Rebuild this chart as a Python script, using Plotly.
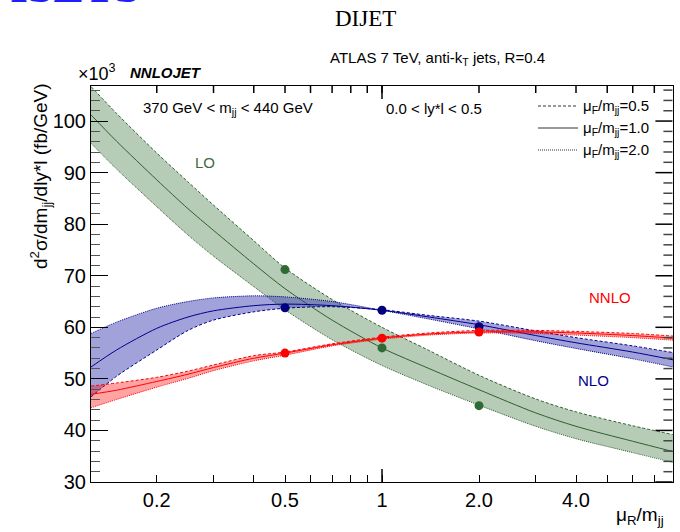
import plotly.graph_objects as go

# ---------------- data ----------------
mu_r = [0.125, 0.15, 0.2, 0.25, 0.3, 0.4, 0.5, 0.7, 1.0, 1.4, 2.0, 3.0, 4.0, 6.0, 8.0]

lo_central = [101.2, 96.1, 88.6, 83.0, 78.8, 72.3, 67.5, 61.4, 56.0, 52.0, 47.9, 43.4, 40.8, 37.9, 35.9]
lo_muf05 = [106.7, 101.5, 93.8, 88.2, 83.7, 76.8, 71.5, 65.4, 60.0, 55.5, 50.7, 46.1, 43.6, 40.9, 39.2]
lo_muf20 = [95.7, 90.7, 83.4, 77.9, 73.8, 67.9, 63.4, 57.6, 52.6, 48.7, 44.9, 40.8, 38.4, 35.7, 33.8]

nlo_central = [52.3, 55.6, 59.8, 62.0, 63.2, 64.2, 64.5, 64.2, 63.3, 62.0, 60.5, 58.4, 57.0, 55.2, 53.7]
nlo_muf05 = [46.5, 50.5, 55.6, 59.4, 61.4, 63.0, 63.7, 64.0, 63.4, 62.3, 61.2, 59.3, 58.0, 56.4, 55.1]
nlo_muf20 = [58.8, 61.0, 63.7, 65.0, 65.7, 66.1, 65.9, 65.0, 63.3, 61.6, 59.7, 57.4, 55.9, 53.9, 52.3]

nnlo_central = [47.0, 47.8, 49.5, 50.9, 52.2, 54.0, 55.0, 56.6, 57.9, 58.7, 59.1, 59.1, 58.9, 58.4, 57.9]
nnlo_muf05 = [48.6, 49.2, 50.3, 51.5, 52.7, 54.5, 55.2, 56.8, 58.1, 58.9, 59.4, 59.4, 59.2, 58.8, 58.3]
nnlo_muf20 = [44.4, 46.0, 48.4, 50.1, 51.6, 53.5, 54.6, 56.4, 57.7, 58.5, 58.9, 58.8, 58.5, 58.0, 57.5]

dot_mu = [0.5, 1.0, 2.0]
lo_dots = [71.2, 56.0, 44.8]
nlo_dots = [63.8, 63.3, 60.1]
nnlo_dots = [55.0, 57.9, 59.1]

x_tickvals = [0.2, 0.5, 1, 2, 4]
x_ticktext = ["0.2", "0.5", "1", "2.0", "4.0"]
x_minor = [0.3, 0.4, 0.6, 0.7, 0.8, 0.9, 3, 5, 6, 7]
y_tickvals = [30, 40, 50, 60, 70, 80, 90, 100]
y_minor = [v for v in range(32, 107, 2) if v % 10 != 0]

orders = [
    ("LO", lo_central, lo_muf05, lo_muf20, lo_dots, "#2f5f2f", "rgba(50,110,50,0.35)", "#2f6a35"),
    ("NLO", nlo_central, nlo_muf05, nlo_muf20, nlo_dots, "#00008b", "rgba(60,60,180,0.48)", "#000080"),
    ("NNLO", nnlo_central, nnlo_muf05, nnlo_muf20, nnlo_dots, "#ff0000", "rgba(255,0,0,0.36)", "#ff0000"),
]

FONT = "Liberation Sans, Arial, Helvetica, sans-serif"
XR = [-0.9031, 0.9031]
YR = [30, 106.8]
PW, PH = 582.0, 396.0

fig = go.Figure()
for name, cen, d05, d20, dots, lc, fc, dc in orders:
    fig.add_trace(go.Scatter(x=mu_r, y=d05, mode="lines",
                             line=dict(color=lc, width=1, dash="3px,2px", shape="spline", smoothing=0.8),
                             showlegend=False, hoverinfo="skip"))
    fig.add_trace(go.Scatter(x=mu_r, y=d20, mode="lines",
                             line=dict(color=lc, width=1, dash="1px,1px", shape="spline", smoothing=0.8),
                             fill="tonexty", fillcolor=fc, showlegend=False, hoverinfo="skip"))
    fig.add_trace(go.Scatter(x=mu_r, y=cen, mode="lines",
                             line=dict(color=lc, width=1, shape="spline", smoothing=0.8),
                             showlegend=False, name=name))
for name, cen, d05, d20, dots, lc, fc, dc in orders:
    fig.add_trace(go.Scatter(x=dot_mu, y=dots, mode="markers", marker=dict(color=dc, size=9),
                             showlegend=False, name=name + " points"))

tickfont = dict(family=FONT, size=20, color="black")
fig.update_layout(
    xaxis=dict(type="log", range=XR, tickmode="array", tickvals=x_tickvals, ticktext=x_ticktext,
               ticks="inside", ticklen=7, tickcolor="black", showline=True, linecolor="black", linewidth=1,
               mirror=True, showgrid=False, zeroline=False, tickfont=tickfont,
               minor=dict(tickmode="array", tickvals=x_minor, ticks="inside", ticklen=7, tickcolor="black")),
    yaxis=dict(range=YR, tickmode="array", tickvals=y_tickvals, ticks="inside", ticklen=17, tickcolor="black",
               showline=True, linecolor="black", linewidth=1, mirror=True, showgrid=False, zeroline=False,
               tickfont=tickfont,
               minor=dict(dtick=2, tick0=30, ticks="inside", ticklen=9, tickcolor="#555555")),
)

ann = []
def A(text, x, y, size, color="black", xa="left", ya="middle", family=FONT, angle=0):
    ann.append(dict(text=text, x=x, y=y, xref="paper", yref="paper", xanchor=xa, yanchor=ya,
                    showarrow=False, textangle=angle, font=dict(family=family, size=size, color=color)))

def px(x):
    return (x - 91) / PW

def py(y):
    return (482 - y) / PH

A("<b>ISETS</b>", px(8), py(14), 46, color="#1e1eff", ya="bottom", family="Liberation Serif, Times New Roman, serif")
A("DIJET", px(365), py(18), 23, xa="center", family="Liberation Serif, Times New Roman, serif")
A("ATLAS 7 TeV, anti-k<sub>T</sub> jets, R=0.4", px(437), py(58), 15, xa="center")
A("×10<sup>3</sup>", px(76), py(72), 18)
A("<b><i>NNLOJET</i></b>", px(128), py(72), 15)
A("370 GeV < m<sub>jj</sub> < 440 GeV", px(141), py(108), 15)
A("0.0 < ly*l < 0.5", px(384), py(108), 15)
A("μ<sub>F</sub>/m<sub>jj</sub>=0.5", px(581), py(106), 15)
A("μ<sub>F</sub>/m<sub>jj</sub>=1.0", px(581), py(128), 15)
A("μ<sub>F</sub>/m<sub>jj</sub>=2.0", px(581), py(150), 15)
A("LO", px(205), py(162), 15, color="#3d6b3d", xa="center")
A("NNLO", px(610), py(297), 15, color="#ff0000", xa="center")
A("NLO", px(593), py(380), 15, color="#00008b", xa="center")
A("d<sup>2</sup>σ/dm<sub>jj</sub>/dly*l (fb/GeV)", px(40), py(176), 19, xa="center", ya="middle", angle=-90)
A("μ<sub>R</sub>/m<sub>jj</sub>", px(666), py(516), 19, xa="right")

shapes = []
for yy, dash in [(106, "3px,2px"), (128, "solid"), (150, "1px,1px")]:
    shapes.append(dict(type="line", xref="paper", yref="paper", x0=px(538), x1=px(578), y0=py(yy), y1=py(yy),
                       line=dict(color="#333333", width=1, dash=dash)))

# mirrored ticks on the top and right frame edges
def tick_x(v, length, top=True, color="black"):
    y0 = 1 if top else 0
    y1 = 1 - length / PH if top else length / PH
    shapes.append(dict(type="line", xref="x", yref="paper", x0=v, x1=v, y0=y0, y1=y1, layer="above",
                       line=dict(color=color, width=1.5)))

def tick_y(v, length, color="black"):
    shapes.append(dict(type="line", xref="paper", yref="y", x0=0.999, x1=0.999 - length / PW, y0=v, y1=v,
                       layer="above", line=dict(color=color, width=1.5)))

for v in x_tickvals + x_minor:
    tick_x(v, 7, top=True)
tick_x(1, 13, top=True)
tick_x(1, 13, top=False)
for v in y_tickvals:
    tick_y(v, 17)
for v in y_minor:
    tick_y(v, 9, color="#444444")

fig.update_layout(width=680, height=532, margin=dict(l=91, r=7, t=86, b=50),
                  paper_bgcolor="white", plot_bgcolor="white", annotations=ann, shapes=shapes,
                  font=dict(family=FONT))

fig.write_html("out.html")
